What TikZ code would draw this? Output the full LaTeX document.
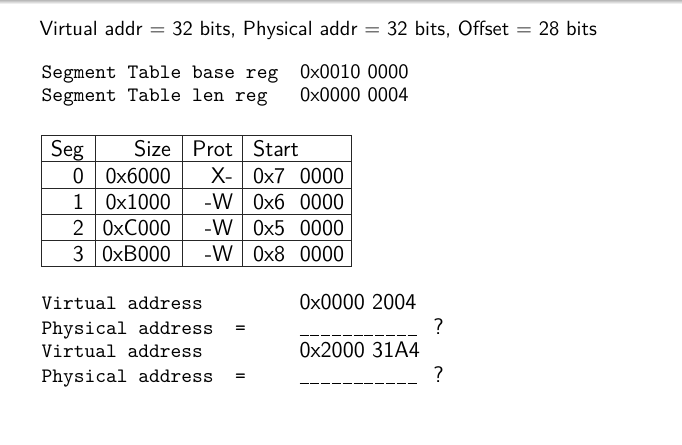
\documentclass[tikz,border=0pt]{standalone}
\newcommand\myudash{\rule[-1.1pt]{4.4pt}{0.6pt}\kern0.87pt}
\newcommand\myblanks{\myudash\myudash\myudash\myudash\myudash\myudash\myudash\myudash\myudash\myudash\myudash}
\begin{document}
\begin{tikzpicture}[x=0.4878pt,y=-0.4878pt,
  sf/.style={inner sep=0pt,outer sep=0pt,font=\sffamily},
  sflarge/.style={inner sep=0pt,outer sep=0pt,font=\sffamily\fontsize{11}{13}\selectfont},
  tabtxt/.style={inner sep=0pt,outer sep=0pt,font=\sffamily\fontsize{11}{13}\selectfont},
  mono/.style={inner sep=0pt,outer sep=0pt,font=\ttfamily},
  tabline/.style={line width=0.45pt,black!85}]
\useasboundingbox (0,0) rectangle (682,444);
\shade[top color=gray!55,bottom color=white] (0,0) rectangle (682,4);
% title
\node[sf,anchor=base west] (title) at (39.5,36) {Virtual addr $=$ 32 bits, Physical addr $=$ 32 bits, Offset $=$ 28 bits};
% registers
\node[mono,anchor=base west] (basel) at (41.5,78.5) {Segment Table base reg};
\node[sf,anchor=base west] (basev) at (300,78.5) {0x0010 0000};
\node[mono,anchor=base west] (lenl) at (41.5,101.5) {Segment Table len reg};
\node[sf,anchor=base west] (lenv) at (300,101.5) {0x0000 0004};
% table grid
\draw[tabline] (41.7,135.7) rectangle (351.7,266.7);
\foreach \yy in {161.7,188.3,214.3,240} \draw[tabline] (41.7,\yy) -- (351.7,\yy);
\foreach \xx in {95,182.3,242.7} \draw[tabline] (\xx,135.7) -- (\xx,266.7);
% header
\node[tabtxt,anchor=base east] (hseg) at (84,156.8) {Seg};
\node[tabtxt,anchor=base east] (hsize) at (171,156.8) {Size};
\node[tabtxt,anchor=base east] (hprot) at (233,156.8) {Prot};
\node[tabtxt,anchor=base west] (hstart) at (253,156.8) {Start};
% rows
\foreach \r/\yb/\sz/\pr/\st in {0/183.3/0x6000/X-/0x7,1/209.6/0x1000/-W/0x6,2/235.5/0xC000/-W/0x5,3/261.7/0xB000/-W/0x8}{
  \node[tabtxt,anchor=base east] (seg\r) at (84,\yb) {\r};
  \node[tabtxt,anchor=base east] (size\r) at (171,\yb) {\sz};
  \node[tabtxt,anchor=base east] (prot\r) at (233,\yb) {\pr};
  \node[tabtxt,anchor=base west] (start\r) at (253,\yb) {\st\ \ 0000};
}
% questions
\node[mono,anchor=base west] (va1) at (41.5,309.5) {Virtual address};
\node[sflarge,anchor=base west] (va1v) at (299.5,309.5) {0x0000 2004};
\node[mono,anchor=base west] (pa1) at (41.5,334) {Physical address\ \ =};
\node[sflarge,anchor=base west] (pa1v) at (299.5,334) {\myblanks\kern7.3pt?};
\node[mono,anchor=base west] (va2) at (41.5,357.5) {Virtual address};
\node[sflarge,anchor=base west] (va2v) at (299.5,357.5) {0x2000 31A4};
\node[mono,anchor=base west] (pa2) at (41.5,382) {Physical address\ \ =};
\node[sflarge,anchor=base west] (pa2v) at (299.5,382) {\myblanks\kern7.3pt?};
\end{tikzpicture}
\end{document}
